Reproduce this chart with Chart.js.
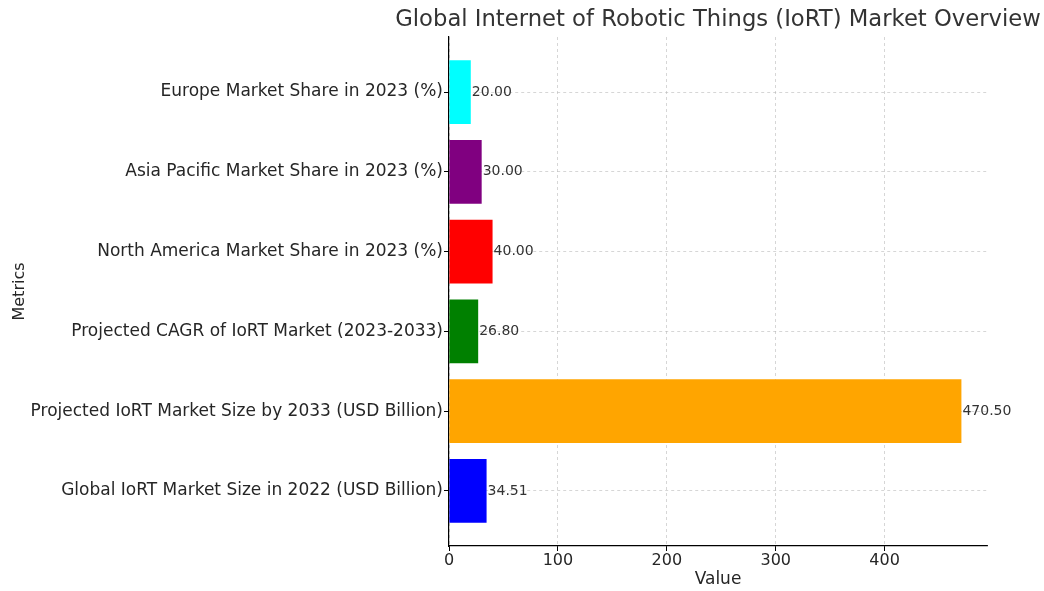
<!DOCTYPE html>
<html>
<head>
<meta charset="utf-8">
<script src="https://cdn.jsdelivr.net/npm/chart.js@4.4.1/dist/chart.umd.min.js"></script>
<style>
  html, body { margin: 0; padding: 0; background: #ffffff; }
  #wrap { width: 1044px; height: 591px; }
</style>
</head>
<body>
<div id="wrap"><canvas id="c" width="1044" height="591"></canvas></div>
<script>
// ---- data (bottom to top) ----
const categories = [
  "Global IoRT Market Size in 2022 (USD Billion)",
  "Projected IoRT Market Size by 2033 (USD Billion)",
  "Projected CAGR of IoRT Market (2023-2033)",
  "North America Market Share in 2023 (%)",
  "Asia Pacific Market Share in 2023 (%)",
  "Europe Market Share in 2023 (%)"
];
const values = [34.51, 470.50, 26.80, 40.00, 30.00, 20.00];
const barColors = ["#0000ff", "#ffa500", "#008000", "#ff0000", "#800080", "#00ffff"];
const xTickValues = [0, 100, 200, 300, 400];
const chartTitle = "Global Internet of Robotic Things (IoRT) Market Overview";
const xTitle = "Value";
const yTitle = "Metrics";

const FONT = "'DejaVu Sans', sans-serif";
const TEXT = "#262626";
const GRID = "rgba(176,176,176,0.65)";

const points = values.map((v, i) => ({ x: v, y: i }));

const valueLabels = {
  id: "valueLabels",
  afterDatasetsDraw(chart) {
    const ctx = chart.ctx;
    const meta = chart.getDatasetMeta(0);
    ctx.save();
    ctx.font = "14px " + FONT;
    ctx.fillStyle = "#333333";
    ctx.textAlign = "left";
    ctx.textBaseline = "middle";
    meta.data.forEach((el, i) => {
      ctx.fillText(values[i].toFixed(2), el.x + 1, el.y);
    });
    ctx.restore();
  }
};

// title centred over the plot area, allowed to extend beyond it
const centredTitle = {
  id: "centredTitle",
  afterDraw(chart) {
    const ctx = chart.ctx;
    const a = chart.chartArea;
    ctx.save();
    ctx.font = "22.7px " + FONT;
    ctx.fillStyle = "#333333";
    ctx.textAlign = "center";
    ctx.textBaseline = "middle";
    ctx.fillText(chartTitle, (a.left + a.right) / 2, 20);
    ctx.restore();
  }
};

new Chart(document.getElementById("c"), {
  type: "bar",
  data: {
    datasets: [{
      data: points,
      backgroundColor: barColors,
      borderWidth: 0,
      barPercentage: 0.8,
      categoryPercentage: 1.0
    }]
  },
  options: {
    indexAxis: "y",
    responsive: false,
    animation: false,
    devicePixelRatio: 1,
    layout: { padding: { left: 10, right: 57, top: 37, bottom: 0 } },
    plugins: {
      legend: { display: false },
      tooltip: { enabled: false },
      title: { display: false }
    },
    scales: {
      x: {
        type: "linear",
        min: 0,
        max: 494,
        z: 1,
        afterBuildTicks(scale) { scale.ticks = xTickValues.map(v => ({ value: v })); },
        afterFit(scale) { scale.height = 45; },
        ticks: { color: TEXT, font: { family: FONT, size: 16 }, padding: 0 },
        grid: { color: GRID, lineWidth: 0.8, tickColor: "#000", tickLength: 5, tickWidth: 1, tickBorderDash: [] },
        border: { display: true, color: "#000", width: 1.2, dash: [3, 3] },
        title: { display: true, text: xTitle, color: TEXT, font: { family: FONT, size: 17 }, padding: { top: 0, bottom: 1 } }
      },
      y: {
        type: "linear",
        min: -0.69,
        max: 5.69,
        offset: false,
        z: 1,
        afterBuildTicks(scale) { scale.ticks = categories.map((c, i) => ({ value: i })); },
        afterFit(scale) { scale.width = 439; },
        ticks: {
          color: TEXT,
          font: { family: FONT, size: 17 },
          padding: 1,
          callback: (v) => categories[v]
        },
        grid: { offset: false, color: GRID, lineWidth: 0.8, tickColor: "#000", tickLength: 5, tickWidth: 1, tickBorderDash: [] },
        border: { display: true, color: "#000", width: 1.2, dash: [3, 3] },
        title: { display: true, text: yTitle, color: TEXT, font: { family: FONT, size: 16 }, padding: { top: 0, bottom: 0 } }
      }
    }
  },
  plugins: [valueLabels, centredTitle]
});
</script>
</body>
</html>
